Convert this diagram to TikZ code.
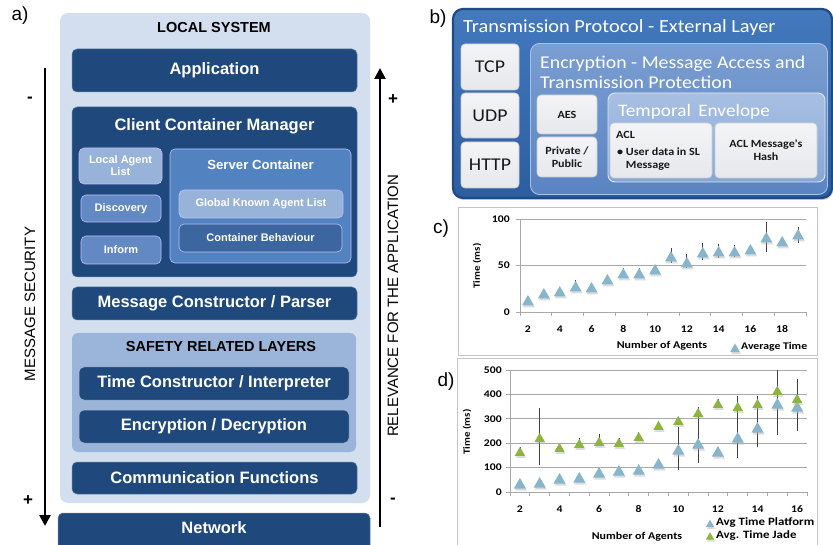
\documentclass[tikz,border=0pt]{standalone}
\usepackage{fontspec}
\setmainfont{Liberation Sans}
\newfontfamily\calb[FakeStretch=1.1]{Carlito}
\newfontfamily\calc[FakeStretch=1.15]{Carlito}
\usetikzlibrary{arrows.meta,shadows}
\definecolor{lsbg}{HTML}{D3DFEE}
\definecolor{adark}{HTML}{1F497D}
\definecolor{alight}{HTML}{98B3D9}
\definecolor{amid}{HTML}{6389C4}
\definecolor{aserver}{HTML}{5282C0}
\definecolor{abeh}{HTML}{3C669F}
\definecolor{safety}{HTML}{9AB5D9}
\definecolor{cblue}{HTML}{86B5CC}
\definecolor{cgreen}{HTML}{8DB441}
\definecolor{gridc}{HTML}{A8A8A8}
\definecolor{framec}{HTML}{C4C4C4}
\definecolor{tptop}{HTML}{4479BE}
\definecolor{tpbot}{HTML}{2C5D9F}
\definecolor{tpedge}{HTML}{1F4A82}
\definecolor{enctop}{HTML}{7A9ED2}
\definecolor{encbot}{HTML}{5A84C2}
\definecolor{encedge}{HTML}{A8C0E4}
\definecolor{tetop}{HTML}{A9C0E3}
\definecolor{tebot}{HTML}{87A6D6}
\definecolor{teedge}{HTML}{DCE6F4}
\definecolor{lbtop}{HTML}{F4F4F6}
\definecolor{lbbot}{HTML}{E6E8EC}
\definecolor{lbedge}{HTML}{C9CDD4}
\newcommand\mtri[4]{%
  \fill[black!30,opacity=.45] (#1-#3+1,#2+0.75*#3+2) -- (#1+#3+1,#2+0.75*#3+2) -- (#1+1,#2-#3+2) -- cycle;
  \fill[#4] (#1-#3,#2+0.75*#3) -- (#1+#3,#2+0.75*#3) -- (#1,#2-#3) -- cycle;}
\tikzset{
  abox/.style={rounded corners=5pt, fill=adark, draw=adark!70!white, line width=0.5pt, text=white,
    font=\fontsize{16.5}{18}\selectfont\bfseries, inner sep=0pt},
  subbox/.style={rounded corners=5pt, draw=white!75!blue, line width=0.6pt, text=white,
    font=\fontsize{11}{13}\selectfont\bfseries, inner sep=0pt, align=center},
  atitle/.style={text=white, font=\fontsize{16.5}{18}\selectfont\bfseries, inner sep=0pt},
  btitle/.style={text=black, font=\fontsize{14.5}{16}\selectfont\bfseries, inner sep=0pt},
  sidelab/.style={font=\fontsize{15}{16}\selectfont, inner sep=0pt, rotate=90},
  pm/.style={font=\fontsize{17}{18}\selectfont\bfseries, inner sep=0pt},
  bigarrow/.style={line width=2.6pt, -{Triangle[width=11pt,length=11pt]}},
  panlab/.style={font=\fontsize{19}{20}\selectfont, inner sep=0pt},
  lightbox/.style={rounded corners=4pt, top color=lbtop, bottom color=lbbot,
    draw=lbedge, line width=0.6pt, inner sep=0pt, align=center, text=black!90},
  bsmall/.style={font=\calb\fontsize{11}{12.5}\selectfont\bfseries},
  frame/.style={draw=framec, line width=0.8pt},
  gridl/.style={draw=gridc, line width=0.7pt},
  ebar/.style={draw=black!75, line width=0.8pt},
  tick/.style={font=\calc\fontsize{10.2}{11}\selectfont\bfseries, inner sep=0pt},
  clab/.style={font=\calc\fontsize{10.4}{11}\selectfont\bfseries, inner sep=0pt},
}
\begin{document}
\begin{tikzpicture}[x=1pt,y=-1pt]
\useasboundingbox (0,0) rectangle (833,545);
\fill[white] (0,0) rectangle (833,545);

% ---------------- panel a ----------------
\node[panlab] (la) at (20,16) {a)};
\node[rounded corners=8pt, fill=lsbg, minimum width=310pt, minimum height=490pt, inner sep=0pt] (ls) at (215,258) {};
\node[btitle] (lst) at (214,28) {LOCAL SYSTEM};
\node[abox, minimum width=285pt, minimum height=43pt] (app) at (214.5,70.5) {Application};
\node[abox, minimum width=285pt, minimum height=170pt] (ccm) at (214.5,192) {};
\node[atitle] (ccmt) at (214.5,126) {Client Container Manager};
\node[subbox, fill=alight, minimum width=83pt, minimum height=36pt] (lal) at (120.5,166) {Local Agent\\[-1pt]List};
\node[subbox, fill=amid, minimum width=80pt, minimum height=27pt] (disc) at (121,208.5) {Discovery};
\node[subbox, fill=amid, minimum width=80pt, minimum height=28pt] (inf) at (121,250) {Inform};
\node[subbox, fill=aserver, minimum width=181pt, minimum height=114pt] (sc) at (260.5,206) {};
\node[text=white, font=\fontsize{13.2}{15}\selectfont\bfseries, inner sep=0pt] (sct) at (260.5,165) {Server Container};
\node[subbox, fill=alight, minimum width=164pt, minimum height=28pt] (gkal) at (261,204) {Global Known Agent List};
\node[subbox, fill=abeh, minimum width=163pt, minimum height=28pt] (cb) at (260.5,238) {Container Behaviour};
\node[abox, minimum width=285pt, minimum height=33pt] (mcp) at (214.5,303.5) {Message Constructor / Parser};
\node[rounded corners=6pt, fill=safety, minimum width=284pt, minimum height=119pt, inner sep=0pt] (srl) at (214,392.5) {};
\node[btitle] (srlt) at (221,347) {SAFETY RELATED LAYERS};
\node[abox, draw=white!60!adark, minimum width=270pt, minimum height=33pt] (tci) at (214,383.5) {Time Constructor / Interpreter};
\node[abox, draw=white!60!adark, minimum width=270pt, minimum height=33pt] (ed) at (214,426.5) {Encryption / Decryption};
\node[abox, minimum width=285pt, minimum height=32pt] (cf) at (214.5,478) {Communication Functions};
\node[abox, minimum width=312pt, minimum height=40pt] (net) at (214,533) {};
\node[atitle] (nett) at (214,528) {Network};

\coordinate (ms1) at (45,68);
\coordinate (ms2) at (45,526);
\draw[bigarrow] (ms1) -- (ms2);
\coordinate (rl1) at (380,527);
\coordinate (rl2) at (380,68);
\draw[bigarrow] (rl1) -- (rl2);
\node[sidelab] (msl) at (30,304) {MESSAGE SECURITY};
\node[sidelab] (rll) at (393,306) {RELEVANCE FOR THE APPLICATION};
\node[pm] (m1) at (30,100) {-};
\node[pm] (p1) at (28,501) {+};
\node[pm] (p2) at (393,100) {+};
\node[pm] (m2) at (393,501) {-};

% ---------------- panel b ----------------
\node[panlab] (lb) at (438,19) {b)};
\node[rounded corners=10pt, top color=tptop, bottom color=tpbot,
  draw=tpedge, line width=2.2pt, minimum width=379pt, minimum height=189pt, inner sep=0pt,
  drop shadow={opacity=0.35, shadow xshift=1pt, shadow yshift=-2pt}] (tp) at (642.5,103.5) {};
\node[text=white, font=\calb\fontsize{18.5}{20}\selectfont, inner sep=0pt, anchor=west] (tpt) at (463,28) {Transmission Protocol - External Layer};
\node[lightbox, font=\calb\fontsize{18}{20}\selectfont, minimum width=58pt, minimum height=46pt] (tcp) at (490,67) {TCP};
\node[lightbox, font=\calb\fontsize{18}{20}\selectfont, minimum width=58pt, minimum height=45pt] (udp) at (490,115.5) {UDP};
\node[lightbox, font=\calb\fontsize{18}{20}\selectfont, minimum width=58pt, minimum height=46pt] (http) at (490,165) {HTTP};
\node[rounded corners=9pt, top color=enctop, bottom color=encbot,
  draw=encedge, line width=0.9pt, minimum width=297pt, minimum height=151pt, inner sep=0pt] (enc) at (679,119) {};
\node[text=white, font=\calb\fontsize{18}{20}\selectfont, inner sep=0pt, anchor=west, align=left] (enct) at (540,72) {Encryption - Message Access and\\Transmission Protection};
\node[lightbox, bsmall, minimum width=60pt, minimum height=39pt] (aes) at (567,114.5) {AES};
\node[lightbox, bsmall, minimum width=60pt, minimum height=40pt] (pp) at (567,157) {Private /\\Public};
\node[rounded corners=7pt, top color=tetop, bottom color=tebot,
  draw=teedge, line width=0.9pt, minimum width=217pt, minimum height=89pt, inner sep=0pt] (te) at (716.5,137.5) {};
\node[text=white, font=\calb\fontsize{17.5}{19}\selectfont, inner sep=0pt, anchor=west] (tet) at (618,112) {Temporal\, Envelope};
\node[lightbox, minimum width=102pt, minimum height=55pt] (acl) at (661,150.5) {};
\node[bsmall, inner sep=0pt, anchor=west, text=black!90] (aclt) at (616,135) {ACL};
\node[bsmall, inner sep=0pt, anchor=west, align=left, text=black!90] (aclu) at (617,159) {\textbullet\ User data in SL\\\hphantom{\textbullet\ }Message};
\node[lightbox, bsmall, minimum width=102pt, minimum height=55pt] (hash) at (766,150.5) {ACL Message's\\Hash};

% ---------------- panel c ----------------
\node[panlab] (lc) at (441,229) {c)};
\draw[frame] (458,207) rectangle (817,355);
\foreach \g in {219,265} \draw[gridl] (520,\g) -- (806,\g);
\draw[gridl] (520,219) -- (520,312) -- (806,312);
\foreach \g in {219,265,312} \draw[gridl] (516,\g) -- (520,\g);
\foreach \j in {0,...,9} \draw[gridl] ({520+\j*31.78},312) -- ({520+\j*31.78},316);
\node[tick, anchor=east] (cy100) at (510,219) {100};
\node[tick, anchor=east] (cy50) at (510,265) {50};
\node[tick, anchor=east] (cy0) at (510,312) {0};
\foreach \k in {2,4,...,18} \node[tick] (cx\k) at ({520+(\k-1.5)*15.89},329) {\k};
\node[clab] (cxl) at (662,346) {Number of Agents};
\node[font=\calc\fontsize{9.5}{10}\selectfont\bfseries, inner sep=0pt, rotate=90] (cyl) at (477,266) {Time (ms)};
\foreach \k/\a/\b in {5/280/287, 8/268/278, 9/268/278, 10/265/272, 11/248/263, 12/254/268, 13/243/260, 14/244/258, 15/245/257, 17/222/252, 19/227/243}
  \draw[ebar] ({520+(\k-1.5)*15.89},\a) -- ({520+(\k-1.5)*15.89},\b);
\foreach \k/\y in {2/301, 3/294, 4/292, 5/287, 6/288, 7/280, 8/274, 9/274, 10/270, 11/257, 12/263, 13/253, 14/252, 15/252, 16/250, 17/238, 18/242, 19/235}{
  \pgfmathsetmacro\xx{520+(\k-1.5)*15.89}
  \mtri{\xx}{\y}{6}{cblue}
}
\mtri{735}{348.5}{5}{cblue}
\node[font=\calc\fontsize{10.2}{11}\selectfont\bfseries, inner sep=0pt, anchor=west] (cleg) at (741,347) {Average Time};

% ---------------- panel d ----------------
\node[panlab] (ld) at (446,382) {d)};
\draw[frame] (457,548) -- (457,358) -- (817,358) -- (817,548);
\foreach \g in {370,394.4,418.8,443.2,467.6} \draw[gridl] (510,\g) -- (807,\g);
\draw[gridl] (510,370) -- (510,492) -- (807,492);
\foreach \g in {370,394.4,418.8,443.2,467.6,492} \draw[gridl] (506,\g) -- (510,\g);
\foreach \j in {0,...,15} \draw[gridl] ({510+\j*19.8},492) -- ({510+\j*19.8},496);
\foreach \v/\g in {0/492,100/467.6,200/443.2,300/418.8,400/394.4,500/370}
  \node[tick, anchor=east] (dy\v) at (502,\g) {\v};
\foreach \k in {2,4,...,16} \node[tick] (dx\k) at ({510+(\k-1.5)*19.8},509) {\k};
\node[clab] (dxl) at (637,537) {Number of Agents};
\node[font=\calc\fontsize{9.5}{10}\selectfont\bfseries, inner sep=0pt, rotate=90] (dyl) at (467,432) {Time (ms)};
\foreach \k/\a/\b in {2/447/452, 3/408/465, 5/438/444, 6/434/442, 7/438/443, 8/432/437, 10/427/470, 11/407/463, 12/399/404, 13/396/458, 14/396/447, 15/370/435, 16/379/431}
  \draw[ebar] ({510+(\k-1.5)*19.8},\a) -- ({510+(\k-1.5)*19.8},\b);
\foreach \k/\y in {2/484, 3/483, 4/479, 5/478, 6/473, 7/471, 8/470, 9/464, 10/450, 11/444, 12/452, 13/438, 14/428, 15/404, 16/407}{
  \pgfmathsetmacro\xx{510+(\k-1.5)*19.8}
  \mtri{\xx}{\y}{6}{cblue}
}
\foreach \k/\y in {2/452, 3/438, 4/448, 5/444, 6/442, 7/443, 8/437, 9/426, 10/421, 11/413, 12/404, 13/407, 14/404, 15/391, 16/399}{
  \pgfmathsetmacro\xx{510+(\k-1.5)*19.8}
  \mtri{\xx}{\y}{5.2}{cgreen}
}
\mtri{710}{524}{4.2}{cblue}
\mtri{710}{536.5}{4.2}{cgreen}
\node[font=\calc\fontsize{11.2}{12}\selectfont\bfseries, inner sep=0pt, anchor=west] (dleg1) at (716,522.5) {Avg Time Platform};
\node[font=\calc\fontsize{11.2}{12}\selectfont\bfseries, inner sep=0pt, anchor=west] (dleg2) at (716,535.5) {Avg. Time Jade};
\end{tikzpicture}
\end{document}
